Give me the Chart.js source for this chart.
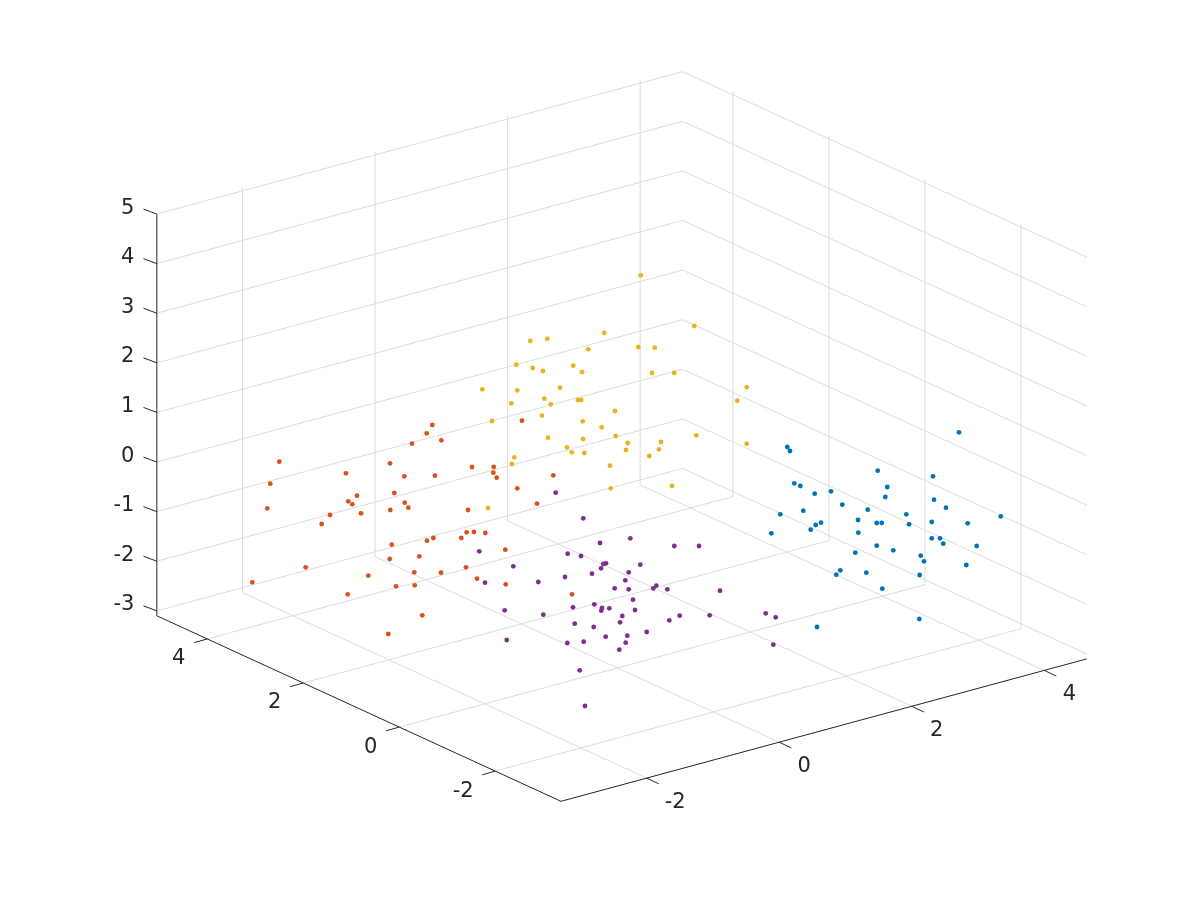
<!DOCTYPE html>
<html><head><meta charset="utf-8">
<style>html,body{margin:0;padding:0;background:#fff}canvas{display:block}</style>
<script src="https://cdn.jsdelivr.net/npm/chart.js@4"></script>
</head><body><canvas id="c" width="1200" height="900"></canvas>
<script>
// Axis ticks and limits of the 3-D box
const xTicks = [-2, 0, 2, 4];
const yTicks = [-2, 0, 2, 4];
const zTicks = [-3, -2, -1, 0, 1, 2, 3, 4, 5];
const xLim = [-3.293, 4.64];
const yLim = [-3.37, 5.05];
const zLim = [-3.1, 5];
const wallTop = 5.07;

// Points, in the view plane of the 3-D plot (depth cannot be recovered)
const blueSeries = [[787.3,447],[790,451],[959,432.3],[877.7,470.7],[933,476.3],[794.3,483.3],[800.3,486],[887.3,487],[814.7,493.7],[831,491.3],[885.3,497],[934,499.7],[842.3,504.7],[946,507.7],[867.7,509.7],[803.3,510.7],[780.3,514.3],[906.3,514.3],[1000.7,516.3],[858,520],[931.7,522],[967.7,523.3],[876.7,523],[881.7,523],[909,524.3],[821,522.7],[815.7,525],[810.7,529.7],[858.3,532.7],[771.3,533.3],[931.7,538.3],[940,538.3],[943.3,543.7],[976.7,546],[876.7,545.7],[893.3,550.3],[855.3,552.7],[920.7,555.7],[924,561.3],[966.3,565],[840.3,570.3],[836.3,574.7],[866.3,572.7],[919.7,575],[882.3,588.7],[919.3,619],[817,627]];
const orangeSeries = [[279.3,461.7],[346,473.3],[270.3,483.7],[267.3,508.3],[357,495.7],[348.3,501.3],[352.3,504.3],[361,513.3],[330,515],[321.7,524],[305.7,567.3],[368.3,575.7],[252.3,582.3],[347.7,594.3],[432.3,425],[426.7,433.3],[522,420.7],[441.3,440.3],[412,443.7],[390,463.3],[404.3,476.3],[435,475.7],[472,467],[493.7,467],[493.3,472.7],[496.7,477.7],[517.3,488.3],[537,503.7],[394.3,493],[404.7,502.7],[408.3,507.7],[390.3,510],[468,510],[466.7,532.3],[474,532],[485.3,533],[461.3,538],[433.3,538],[427,540.7],[391.7,544.7],[505.3,549.7],[389.7,559],[419.3,556.3],[414.3,572.3],[441,572.7],[466,567.3],[477,578.7],[505.7,584.3],[396,586.3],[414.7,585.3],[422.3,615.3],[388.3,634],[553.3,475.3],[572,594.3]];
const yellowSeries = [[604.3,333],[547.3,338.7],[530.3,341],[588.3,349.3],[516.3,364.7],[532.7,368],[573.3,365.7],[543,371],[582,372],[482.3,389.3],[517.3,390.3],[560,387.7],[511.3,403.3],[544.3,398.7],[578,400],[581.3,400],[550.7,404.3],[615,411],[492,421],[542,415.7],[582.7,421.3],[601.7,427.3],[615.7,436],[548,437.7],[583,439],[567,447.3],[571.7,452.3],[584.3,453],[514.3,457.3],[512,464],[610,465.7],[610.7,488.3],[488,508],[640.7,275.3],[694.3,326],[638.3,347],[654.7,347.7],[652,373],[674.3,373],[746.7,387.3],[737.3,400.7],[627.7,443],[626,450],[661,442],[659,449.3],[649.3,456],[696.3,435.3],[746.7,443.7],[672,486]];
const purpleSeries = [[583.3,518.3],[600,543],[479.3,551.3],[567.7,553.7],[581,556],[606,563.3],[603.3,564],[601,568.3],[513.3,566.3],[592,573.7],[538.3,582],[485,582.7],[565,577],[614.7,588.3],[594.3,604.3],[573,607.3],[602,608],[601.3,610.7],[609.3,608.3],[504.7,610.3],[543.3,614.7],[574.7,623.7],[593.7,627],[620,622.3],[605.7,636.7],[506.7,640],[567.3,643],[583.7,641.7],[619.3,649.7],[579.7,670.3],[585,706],[630.3,538.3],[674.3,546],[699,546],[640.3,564.7],[628.7,572.3],[625.3,580.3],[628.7,589.3],[656.3,585.7],[653.3,588.3],[667.3,589.3],[720,590.7],[633,599.7],[635,610],[622.3,616],[679.7,615.7],[669.3,620.3],[709.7,615.3],[765.7,613.3],[775.7,617.3],[646.7,632],[627.3,635.7],[625.7,642.7],[773.3,644.7],[555.7,492.7]];

const seriesColors = ['#0072BD', '#D95319', '#EDB120', '#7E2F8E'];
const gridColor = '#dcdcdc';
const axisColor = '#262626';

// Orthographic view of MATLAB's default 3-D axes
function view(x, y, z) {
  return {
    x: 561 + (x - xLim[0]) * 66.27 + (y - yLim[0]) * -48,
    y: 801.3 + (x - xLim[0]) * -17.95 + (y - yLim[0]) * -22.03 + (z - zLim[0]) * -49.6
  };
}
const gap = { x: NaN, y: NaN };
const gridPts = [];
const path = (...p) => { p.forEach(q => gridPts.push(view(...q))); gridPts.push(gap); };
xTicks.forEach(t => path([t, yLim[0], zLim[0]], [t, yLim[1], zLim[0]], [t, yLim[1], wallTop]));
yTicks.forEach(t => path([xLim[0], t, zLim[0]], [xLim[1], t, zLim[0]], [xLim[1], t, wallTop]));
zTicks.forEach(t => path([xLim[0], yLim[1], t], [xLim[1], yLim[1], t], [xLim[1], yLim[0], t]));

const axisPts = [];
const seg = (a, b) => { axisPts.push(a, b, gap); };
seg(view(xLim[0], yLim[0], zLim[0]), view(xLim[1], yLim[0], zLim[0]));
seg(view(xLim[0], yLim[0], zLim[0]), view(xLim[0], yLim[1], zLim[0]));
seg(view(xLim[0], yLim[1], zLim[0]), view(xLim[0], yLim[1], zLim[1]));
const shift = (p, dx, dy) => ({ x: p.x + dx, y: p.y + dy });
xTicks.forEach(t => { const p = view(t, yLim[0], zLim[0]); seg(p, shift(p, 12, 5.7)); });
yTicks.forEach(t => { const p = view(xLim[0], t, zLim[0]); seg(p, shift(p, -13, 3.7)); });
zTicks.forEach(t => { const p = view(xLim[0], yLim[1], t); seg(p, shift(p, -13.3, -5)); });

const toXY = a => a.map(p => ({ x: p[0], y: p[1] }));
const dots = (data, i) => ({
  data: toXY(data), showLine: false, pointRadius: 2.4, pointBorderWidth: 0,
  pointBackgroundColor: seriesColors[i], order: 1
});

const tickLabels = {
  id: 'tickLabels',
  afterDatasetsDraw(chart) {
    const { ctx, scales } = chart;
    const put = (txt, p, dx, dy, align) => {
      ctx.textAlign = align; ctx.textBaseline = 'middle';
      ctx.fillText(txt, scales.x.getPixelForValue(p.x) + dx, scales.y.getPixelForValue(p.y) + dy);
    };
    ctx.save();
    ctx.fillStyle = axisColor;
    ctx.font = '21px "DejaVu Sans"';
    xTicks.forEach(t => put(String(t), view(t, yLim[0], zLim[0]), t < 0 ? 28.5 : 25, 24, 'center'));
    yTicks.forEach(t => put(String(t), view(xLim[0], t, zLim[0]), t < 0 ? -32 : -28.5, 20, 'center'));
    zTicks.forEach(t => put(String(t), view(xLim[0], yLim[1], t), -22.5, -6, 'right'));
    ctx.restore();
  }
};

new Chart(document.getElementById('c'), {
  type: 'scatter',
  data: {
    datasets: [
      { data: gridPts, showLine: true, borderColor: gridColor, borderWidth: 1, pointRadius: 0, spanGaps: false, order: 3 },
      { data: axisPts, showLine: true, borderColor: axisColor, borderWidth: 1, pointRadius: 0, spanGaps: false, order: 2 },
      dots(blueSeries, 0), dots(orangeSeries, 1), dots(yellowSeries, 2), dots(purpleSeries, 3)
    ]
  },
  options: {
    responsive: false, animation: false, devicePixelRatio: 1,
    layout: { padding: 0, autoPadding: false },
    plugins: { legend: { display: false }, tooltip: { enabled: false } },
    scales: {
      x: { type: 'linear', min: 0, max: 1200, display: false },
      y: { type: 'linear', min: 0, max: 900, reverse: true, display: false }
    }
  },
  plugins: [tickLabels]
});
</script></body></html>
